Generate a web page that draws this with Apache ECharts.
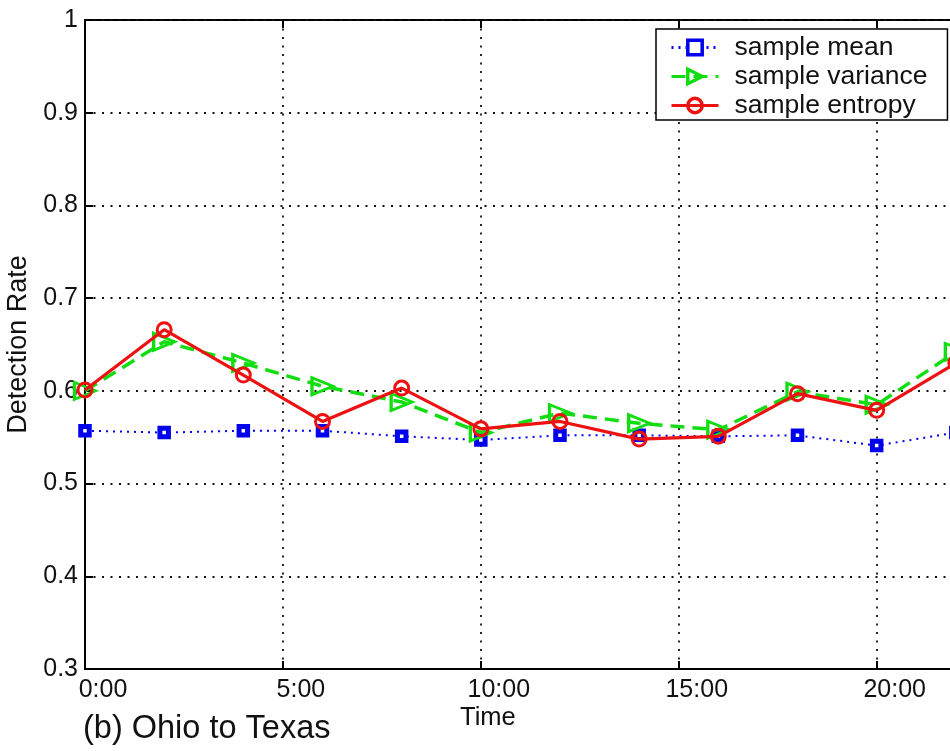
<!DOCTYPE html>
<html>
<head>
<meta charset="utf-8">
<script src="https://cdn.jsdelivr.net/npm/echarts@6/dist/echarts.min.js"></script>
<style>
  html, body { margin: 0; padding: 0; background: #fff; }
  #chart { width: 950px; height: 751px; }
</style>
</head>
<body>
<div id="chart"></div>
<script>
  // hours of the day where samples were taken
  const hours = [0, 2, 4, 6, 8, 10, 12, 14, 16, 18, 20, 22];
  const meanRate = [0.557, 0.555, 0.557, 0.557, 0.551, 0.547, 0.552, 0.552, 0.551, 0.552, 0.541, 0.555];
  const varianceRate = [0.600, 0.653, 0.630, 0.605, 0.588, 0.555, 0.576, 0.565, 0.558, 0.599, 0.585, 0.642];
  const entropyRate = [0.601, 0.666, 0.617, 0.567, 0.603, 0.559, 0.567, 0.548, 0.551, 0.597, 0.579, 0.630];
  const xTicks = [0, 5, 10, 15, 20];
  const yTicks = [0.3, 0.4, 0.5, 0.6, 0.7, 0.8, 0.9, 1];

  const font = 'Liberation Sans, Arial, sans-serif';
  const pairs = (vals) => hours.map((h, i) => [h, vals[i]]);

  let chart = echarts.init(document.getElementById('chart'));

  const dotted = { color: '#111', width: 1.8, type: [2, 6.5] };

  let option = {
    backgroundColor: '#fff',
    animation: false,
    textStyle: { fontFamily: font },
    grid: {
      left: 85,
      top: 20,
      width: 950,   // plot runs past the right edge, as in the picture
      bottom: 82,
      outerBoundsMode: 'none',
      containLabel: false,
      show: true,
      borderColor: '#000',
      borderWidth: 2,
      backgroundColor: '#fff'
    },
    legend: {
      orient: 'vertical',
      left: 656,
      top: 29,
      padding: [5, 20, 1, 14],
      itemGap: 2,
      itemWidth: 47,
      itemHeight: 18,
      backgroundColor: '#fff',
      borderColor: '#000',
      borderWidth: 1.5,
      borderRadius: 0,
      lineStyle: { width: 3 },
      itemStyle: { borderWidth: 3.5 },
      textStyle: { fontSize: 26.5, color: '#111', fontFamily: font, padding: [0, 0, 0, 11] },
      data: ['sample mean', 'sample variance', 'sample entropy']
    },
    xAxis: [
      {
        type: 'value',
        min: 0,
        max: 24,
        interval: 5,
        axisLine: { lineStyle: { color: '#000', width: 2 } },
        axisTick: { inside: true, length: 8, lineStyle: { color: '#000', width: 2 } },
        axisLabel: {
          color: '#111',
          fontSize: 25,
          margin: 9,
          padding: [0, 0, 0, 36],
          showMaxLabel: false,
          formatter: (v) => xTicks.indexOf(v) >= 0 ? v + ':00' : ''
        },
        splitLine: { show: true, lineStyle: dotted }
      },
      {
        type: 'value',
        position: 'top',
        min: 0,
        max: 24,
        interval: 5,
        axisLine: { show: false },
        axisTick: { inside: true, length: 8, lineStyle: { color: '#000', width: 2 } },
        axisLabel: { show: false },
        splitLine: { show: false }
      }
    ],
    yAxis: {
      type: 'value',
      min: 0.3,
      max: 1,
      interval: 0.1,
      name: 'Detection Rate',
      nameLocation: 'middle',
      nameGap: 44,
      nameTextStyle: { fontSize: 27, color: '#111', fontFamily: font },
      axisLine: { show: true, lineStyle: { color: '#000', width: 2 } },
      axisTick: { inside: true, length: 8, lineStyle: { color: '#000', width: 2 } },
      axisLabel: {
        color: '#111',
        fontSize: 25,
        margin: 7,
        formatter: (v) => {
          let r = Math.round(v * 10) / 10;
          return yTicks.indexOf(r) >= 0 ? String(r) : '';
        }
      },
      splitLine: { show: true, lineStyle: dotted }
    },
    graphic: [
      {
        type: 'text',
        left: 460,
        top: 705,
        style: { text: 'Time', fontSize: 25.5, fill: '#111', fontFamily: font }
      },
      {
        type: 'text',
        left: 83,
        top: 713,
        style: { text: '(b) Ohio to Texas', fontSize: 32.5, fill: '#111', fontFamily: font }
      }
    ],
    series: [
      {
        name: 'sample mean',
        type: 'line',
        data: pairs(meanRate),
        symbol: 'rect',
        symbolSize: 8.5,
        lineStyle: { color: '#0000ee', width: 2, type: [2, 5] },
        itemStyle: { color: '#fff', borderColor: '#0000ee', borderWidth: 5 },
        z: 2
      },
      {
        name: 'sample variance',
        type: 'line',
        data: pairs(varianceRate),
        symbol: 'triangle',
        symbolSize: [17, 21],
        symbolRotate: -90,
        lineStyle: { color: '#11dd11', width: 3.5, type: [14, 8] },
        itemStyle: { color: 'rgba(255,255,255,0)', borderColor: '#11dd11', borderWidth: 3 },
        z: 3
      },
      {
        name: 'sample entropy',
        type: 'line',
        data: pairs(entropyRate),
        symbol: 'circle',
        symbolSize: 14,
        lineStyle: { color: '#ee1111', width: 3.2 },
        itemStyle: { color: 'rgba(255,255,255,0)', borderColor: '#ee1111', borderWidth: 3 },
        z: 4
      }
    ]
  };

  chart.setOption(option);
</script>
</body>
</html>
